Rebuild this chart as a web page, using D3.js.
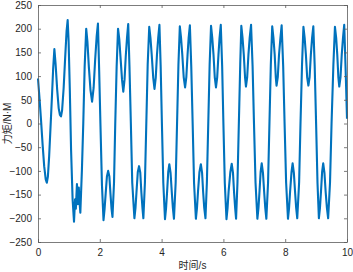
<!DOCTYPE html>
<html>
<head>
<meta charset="utf-8">
<script src="https://cdn.jsdelivr.net/npm/d3@7"></script>
<style>
  html, body { margin: 0; padding: 0; background: #fff; }
  svg { display: block; }
  text { font-family: "Liberation Sans", Arial, Helvetica, sans-serif; }
</style>
</head>
<body>
<svg id="chart" width="353" height="272"></svg>
<script>
// ---- data ----
const timeS = [
  0, 0.05, 0.10, 0.15, 0.20, 0.25, 0.285, 0.32, 0.36, 0.40, 0.45, 0.49, 0.53, 0.57, 0.62, 0.67, 0.71, 0.745, 0.78, 0.83, 0.88, 0.925, 0.96, 0.99,
  1.03, 1.07, 1.12, 1.165, 1.20, 1.225, 1.26, 1.29, 1.32, 1.345, 1.37, 1.42, 1.465, 1.51, 1.56, 1.60, 1.645, 1.70, 1.75, 1.80, 1.85, 1.90, 1.94, 1.98,
  2.02, 2.07, 2.12, 2.155, 2.19, 2.23, 2.27, 2.31, 2.345, 2.38, 2.41, 2.46, 2.50, 2.545, 2.59, 2.63, 2.67, 2.72, 2.76, 2.80, 2.84, 2.88, 2.92, 2.96,
  3.005, 3.05, 3.12, 3.155, 3.19, 3.23, 3.27, 3.31, 3.345, 3.38, 3.41, 3.46, 3.505, 3.55, 3.60, 3.64, 3.68, 3.73, 3.77, 3.81, 3.85, 3.89, 3.93, 3.97,
  4.01, 4.055, 4.11, 4.145, 4.18, 4.215, 4.25, 4.29, 4.33, 4.365, 4.40, 4.455, 4.50, 4.545, 4.59, 4.63, 4.67, 4.715, 4.76, 4.80, 4.84, 4.875, 4.915, 4.96,
  5.005, 5.05, 5.11, 5.145, 5.18, 5.225, 5.27, 5.31, 5.345, 5.38, 5.42, 5.465, 5.51, 5.555, 5.60, 5.64, 5.68, 5.72, 5.76, 5.80, 5.84, 5.875, 5.915, 5.96,
  6.00, 6.045, 6.10, 6.135, 6.17, 6.225, 6.27, 6.31, 6.345, 6.38, 6.41, 6.455, 6.50, 6.545, 6.58, 6.62, 6.66, 6.70, 6.73, 6.77, 6.81, 6.85, 6.895, 6.945,
  6.99, 7.04, 7.10, 7.135, 7.17, 7.205, 7.24, 7.28, 7.32, 7.355, 7.39, 7.445, 7.49, 7.535, 7.58, 7.62, 7.66, 7.695, 7.72, 7.76, 7.80, 7.845, 7.885, 7.935,
  7.98, 8.03, 8.09, 8.125, 8.16, 8.205, 8.24, 8.28, 8.32, 8.355, 8.39, 8.45, 8.495, 8.545, 8.59, 8.63, 8.67, 8.71, 8.75, 8.79, 8.83, 8.87, 8.91, 8.955,
  9.00, 9.045, 9.09, 9.125, 9.16, 9.195, 9.23, 9.27, 9.31, 9.35, 9.39, 9.45, 9.50, 9.56, 9.61, 9.65, 9.685, 9.72, 9.75, 9.79, 9.83, 9.87, 9.91, 9.955,
  10.0
];
const torqueNm = [
  95, 52, 5, -45, -90, -118, -125, -112, -70, -15, 55, 115, 157, 125, 72, 32, 18, 15, 28, 75, 140, 195, 218, 175,
  70, -55, -160, -207, -160, -180, -128, -170, -135, -165, -188, -100, 0, 120, 200, 172, 120, 70, 46, 75, 135, 185, 211, 110,
  0, -130, -204, -180, -148, -112, -100, -112, -148, -180, -197, -125, 0, 120, 200, 178, 140, 92, 67, 92, 142, 180, 210, 120,
  0, -125, -200, -178, -142, -102, -90, -104, -145, -178, -200, -125, 0, 125, 204, 180, 145, 96, 73, 96, 145, 180, 208, 120,
  0, -125, -202, -178, -142, -102, -86, -104, -145, -178, -201, -125, 0, 125, 205, 180, 145, 98, 76, 98, 145, 180, 207, 120,
  0, -125, -201, -178, -142, -102, -86, -104, -145, -178, -200, -125, 0, 125, 206, 180, 145, 98, 76, 98, 145, 180, 208, 120,
  0, -125, -202, -178, -142, -102, -85, -104, -145, -178, -201, -125, 0, 125, 206, 180, 145, 98, 78, 98, 145, 180, 208, 120,
  0, -125, -201, -178, -142, -102, -84, -104, -145, -178, -201, -125, 0, 125, 205, 180, 145, 98, 80, 98, 145, 180, 207, 120,
  0, -125, -201, -178, -142, -102, -84, -104, -145, -178, -200, -125, 0, 125, 204, 180, 145, 98, 80, 98, 145, 180, 205, 120,
  0, -125, -200, -178, -142, -102, -84, -104, -145, -178, -200, -125, 0, 125, 204, 180, 145, 98, 78, 98, 145, 180, 208, 115,
  10
];
const xTicks = [0, 2, 4, 6, 8, 10];
const yTicks = [-250, -200, -150, -100, -50, 0, 50, 100, 150, 200, 250];
const xLabel = "时间/s";
const yLabel = "力矩/N·M";

// ---- layout ----
const svg = d3.select("#chart");
const padL = 38, padR = 347, padT = 5, padB = 242;
const x = d3.scaleLinear().domain([0, 10]).range([padL, padR]);
const y = d3.scaleLinear().domain([-250, 250]).range([padB, padT]);
const axisColor = "#5a5a5a";
const tickLen = 3;
const labelFont = "'Liberation Sans', Arial, 'Noto Sans CJK SC', sans-serif";

// data line
const points = timeS.map((t, i) => [t, torqueNm[i]]);
const line = d3.line().x(d => x(d[0])).y(d => y(d[1]));
svg.append("path")
  .datum(points)
  .attr("fill", "none")
  .attr("stroke", "#0072BD")
  .attr("stroke-width", 2.1)
  .attr("stroke-linejoin", "round")
  .attr("d", line);

// axes (MATLAB-like boxed, inward ticks)
function styleAxis(g) {
  g.selectAll("path.domain").attr("stroke", axisColor).attr("stroke-width", 0.8);
  g.selectAll(".tick line").attr("stroke", axisColor).attr("stroke-width", 0.8);
  g.selectAll(".tick text").attr("fill", "#262626").style("font-size", "10px")
    .style("font-family", "'Liberation Sans', Arial, sans-serif");
}
const xAxisB = svg.append("g").attr("transform", `translate(0,${padB})`)
  .call(d3.axisBottom(x).tickValues(xTicks).tickFormat(d3.format("d")).tickSizeInner(-tickLen).tickSizeOuter(0).tickPadding(7));
styleAxis(xAxisB);
const xAxisT = svg.append("g").attr("transform", `translate(0,${padT})`)
  .call(d3.axisTop(x).tickValues(xTicks).tickFormat("").tickSizeInner(-tickLen).tickSizeOuter(0));
styleAxis(xAxisT);
const yAxisL = svg.append("g").attr("transform", `translate(${padL},0)`)
  .call(d3.axisLeft(y).tickValues(yTicks).tickFormat(d3.format("d")).tickSizeInner(-tickLen).tickSizeOuter(0).tickPadding(6));
styleAxis(yAxisL);
const yAxisR = svg.append("g").attr("transform", `translate(${padR},0)`)
  .call(d3.axisRight(y).tickValues(yTicks).tickFormat("").tickSizeInner(-tickLen).tickSizeOuter(0));
styleAxis(yAxisR);

// axis titles
svg.append("text")
  .attr("x", (padL + padR) / 2).attr("y", 269)
  .attr("text-anchor", "middle")
  .attr("fill", "#262626")
  .style("font-size", "10px")
  .style("font-family", labelFont)
  .text(xLabel);
svg.append("text")
  .attr("transform", `translate(11,${(padT + padB) / 2}) rotate(-90)`)
  .attr("text-anchor", "middle")
  .attr("fill", "#262626")
  .style("font-size", "10px")
  .style("font-family", labelFont)
  .text(yLabel);
</script>
</body>
</html>
